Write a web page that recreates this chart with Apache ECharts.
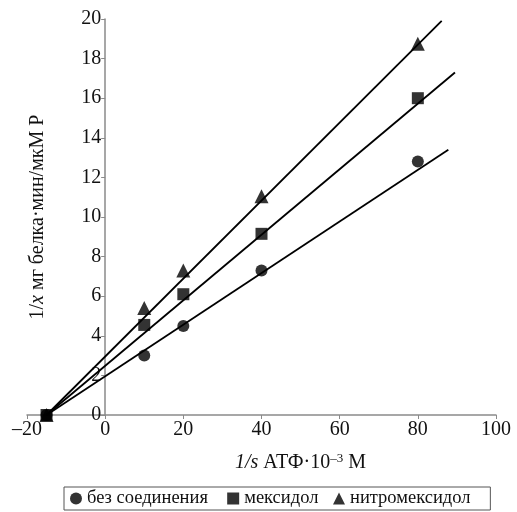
<!DOCTYPE html>
<html>
<head>
<meta charset="utf-8">
<script src="https://cdn.jsdelivr.net/npm/echarts@6/dist/echarts.min.js"></script>
<style>
  html, body { margin: 0; padding: 0; background: #fff; }
  #chart { width: 517px; height: 512px; }
</style>
</head>
<body>
<div id="chart"></div>
<script>
// Lineweaver–Burk plot: 1/v against 1/[ATP]
const seriesNames = ['без соединения', 'мексидол', 'нитромексидол'];
const seriesSymbols = ['circle', 'rect', 'triangle'];

// measured points [1/s, 1/x]
const controlPoints = [[-15, 0], [10, 3.0], [20, 4.5], [40, 7.3], [80, 12.8]];
const mexidolPoints = [[-15, 0], [10, 4.55], [20, 6.1], [40, 9.15], [80, 16.0]];
const nitromexidolPoints = [[-15, 0], [10, 5.4], [20, 7.3], [40, 11.05], [80, 18.75]];

// fitted straight lines: start and end of each
const controlFit = [[-15, 0], [87.8, 13.4]];
const mexidolFit = [[-15, 0], [89.5, 17.3]];
const nitromexidolFit = [[-15, 0], [86.1, 19.9]];

const xTicks = { min: -20, max: 100, interval: 20 };
const yTicks = { min: 0, max: 20, interval: 2 };

const pointSets = [controlPoints, mexidolPoints, nitromexidolPoints];
const fitSets = [controlFit, mexidolFit, nitromexidolFit];

const serif = '"Liberation Serif", "DejaVu Serif", serif';
const axisGray = '#8a8a8a';

const W = 517, H = 512;
const grid = { left: 27, right: 21, top: 19, bottom: 97 };
// the vertical axis stands at x = 0, inside the plot area
const yAxisShift = (0 - xTicks.min) / (xTicks.max - xTicks.min) * (W - grid.left - grid.right);

const markerSize = { circle: 12, rect: 12, triangle: 14 };

const series = [];
fitSets.forEach(function (d, i) {
  series.push({
    name: 'fit' + i,
    type: 'line',
    data: d,
    symbol: 'none',
    silent: true,
    lineStyle: { color: '#000', width: 1.8 },
    z: 2
  });
});
pointSets.forEach(function (d, i) {
  series.push({
    name: seriesNames[i],
    type: 'scatter',
    data: d,
    symbol: seriesSymbols[i],
    symbolSize: markerSize[seriesSymbols[i]],
    itemStyle: { color: '#000' },
    z: 3
  });
});

// trailing no-break spaces after each legend entry, for the spacing between keys
const legendTrail = [2, 1, 3];

const chart = echarts.init(document.getElementById('chart'));
chart.setOption({
  animation: false,
  backgroundColor: '#fff',
  grid: Object.assign({ containLabel: false, outerBoundsMode: 'none' }, grid),
  xAxis: {
    type: 'value',
    min: xTicks.min, max: xTicks.max, interval: xTicks.interval,
    splitLine: { show: false },
    axisLine: { lineStyle: { color: axisGray, width: 1.5 } },
    axisTick: { length: 4, lineStyle: { color: axisGray } },
    axisLabel: {
      color: '#111', fontFamily: serif, fontSize: 20, margin: 5,
      formatter: function (v) { return v < 0 ? '\u2013' + Math.abs(v) : String(v); }
    },
    name: '{i|1/s} АТФ·10{sup|\u20133} М',
    nameLocation: 'middle',
    nameGap: 37,
    nameTextStyle: {
      color: '#111', fontFamily: serif, fontSize: 20,
      padding: [0, 0, 0, 78],
      rich: {
        i: { fontFamily: serif, fontSize: 20, fontStyle: 'italic', color: '#111' },
        sup: { fontFamily: serif, fontSize: 13, verticalAlign: 'top', padding: [0, 0, 9, 0], color: '#111' }
      }
    }
  },
  yAxis: {
    type: 'value',
    min: yTicks.min, max: yTicks.max, interval: yTicks.interval,
    offset: -yAxisShift,
    splitLine: { show: false },
    axisLine: { onZero: false, lineStyle: { color: axisGray, width: 1.5 } },
    axisTick: { length: 4, lineStyle: { color: axisGray } },
    axisLabel: { color: '#111', fontFamily: serif, fontSize: 20, margin: 4 },
    name: '1/{i|x} мг белка·мин/мкМ Р',
    nameLocation: 'middle',
    nameGap: 57,
    nameTextStyle: {
      color: '#111', fontFamily: serif, fontSize: 20,
      rich: { i: { fontFamily: serif, fontSize: 20, fontStyle: 'italic', color: '#111' } }
    }
  },
  legend: {
    data: seriesNames.map(function (n, i) { return { name: n, icon: seriesSymbols[i] }; }),
    formatter: function (name) {
      return name + '\u00A0'.repeat(legendTrail[seriesNames.indexOf(name)]);
    },
    left: 64, top: 487,
    orient: 'horizontal',
    itemWidth: 12, itemHeight: 12, itemGap: 10,
    borderColor: '#555', borderWidth: 1, borderRadius: 0,
    padding: [2, 6, 2, 6],
    textStyle: { color: '#111', fontFamily: serif, fontSize: 18.5 },
    itemStyle: { color: '#000' }
  },
  series: series
});
</script>
</body>
</html>
